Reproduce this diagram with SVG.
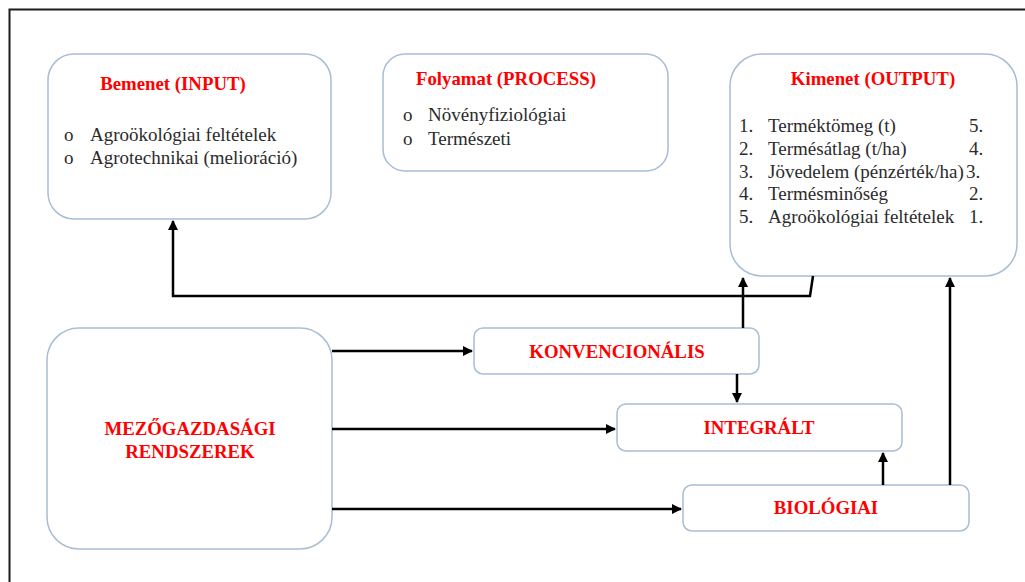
<svg xmlns="http://www.w3.org/2000/svg" width="1025" height="582" viewBox="0 0 1025 582">
<defs>
<style>
.box{fill:#fff;stroke:#a9bdd4;stroke-width:1.5}
.t{font-family:'Liberation Serif','DejaVu Serif',serif;font-weight:bold;fill:#ff0000;font-size:18.8px}
.b{font-family:'Liberation Serif','DejaVu Serif',serif;fill:#2b2b2b;font-size:19px}
.c{fill:none;stroke:#000;stroke-width:2.5}
</style>
<marker id="ah" viewBox="0 0 10 10" refX="9" refY="5" markerWidth="4" markerHeight="4" orient="auto" markerUnits="strokeWidth">
<path d="M0,0 L10,5 L0,10 z" fill="#000"/>
</marker>
</defs>
<rect width="1025" height="582" fill="#fff"/>
<path d="M9.5,582 V9.5 H1025" fill="none" stroke="#1a1a1a" stroke-width="2"/>
<g id="input">
<rect class="box" x="48" y="54" width="283" height="165" rx="26"/>
<text class="t" x="173" y="90" text-anchor="middle">Bemenet (INPUT)</text>
<text class="b" x="64" y="141">o</text><text class="b" x="90" y="141">Agroökológiai  feltételek</text>
<text class="b" x="64" y="164">o</text><text class="b" x="90" y="164">Agrotechnikai (melioráció)</text>
</g>
<g id="process">
<rect class="box" x="383" y="54" width="285" height="117" rx="22"/>
<text class="t" x="416" y="85">Folyamat (PROCESS)</text>
<text class="b" x="403" y="121">o</text><text class="b" x="428" y="121">Növényfiziológiai</text>
<text class="b" x="403" y="145">o</text><text class="b" x="428" y="145">Természeti</text>
</g>
<g id="output">
<rect class="box" x="730" y="54" width="287" height="222" rx="32"/>
<text class="t" x="873" y="85" text-anchor="middle">Kimenet (OUTPUT)</text>
<text class="b" x="739" y="132">1.</text><text class="b" x="768" y="132">Terméktömeg (t)</text><text class="b" x="969" y="132">5.</text>
<text class="b" x="739" y="155">2.</text><text class="b" x="768" y="155">Termésátlag (t/ha)</text><text class="b" x="969" y="155">4.</text>
<text class="b" x="739" y="178">3.</text><text class="b" x="768" y="178">Jövedelem (pénzérték/ha)</text><text class="b" x="966" y="178">3.</text>
<text class="b" x="739" y="200">4.</text><text class="b" x="768" y="200">Termésminőség</text><text class="b" x="969" y="200">2.</text>
<text class="b" x="739" y="223">5.</text><text class="b" x="768" y="223">Agroökológiai  feltételek</text><text class="b" x="969" y="223">1.</text>
</g>
<g id="mezo">
<rect class="box" x="47" y="328" width="285" height="221" rx="32"/>
<text class="t" x="190" y="435" text-anchor="middle">MEZŐGAZDASÁGI</text>
<text class="t" x="190" y="458" text-anchor="middle">RENDSZEREK</text>
</g>
<g id="konv">
<rect class="box" x="474" y="328" width="285" height="46" rx="9"/>
<text class="t" x="617" y="358" text-anchor="middle">KONVENCIONÁLIS</text>
</g>
<g id="integralt">
<rect class="box" x="617" y="404" width="285" height="47" rx="9"/>
<text class="t" x="759" y="434" text-anchor="middle">INTEGRÁLT</text>
</g>
<g id="bio">
<rect class="box" x="683" y="485" width="286" height="46" rx="9"/>
<text class="t" x="826" y="514" text-anchor="middle">BIOLÓGIAI</text>
</g>
<g id="connectors">
<path class="c" d="M813,276 L810,296 H173 V221" marker-end="url(#ah)"/>
<path class="c" d="M332,351 H472" marker-end="url(#ah)"/>
<path class="c" d="M332,429 H615" marker-end="url(#ah)"/>
<path class="c" d="M332,509 H681" marker-end="url(#ah)"/>
<path class="c" d="M743,328 V278" marker-end="url(#ah)"/>
<path class="c" d="M737,374 V402" marker-end="url(#ah)"/>
<path class="c" d="M883,485 V453" marker-end="url(#ah)"/>
<path class="c" d="M950,485 V278" marker-end="url(#ah)"/>
</g>
</svg>
